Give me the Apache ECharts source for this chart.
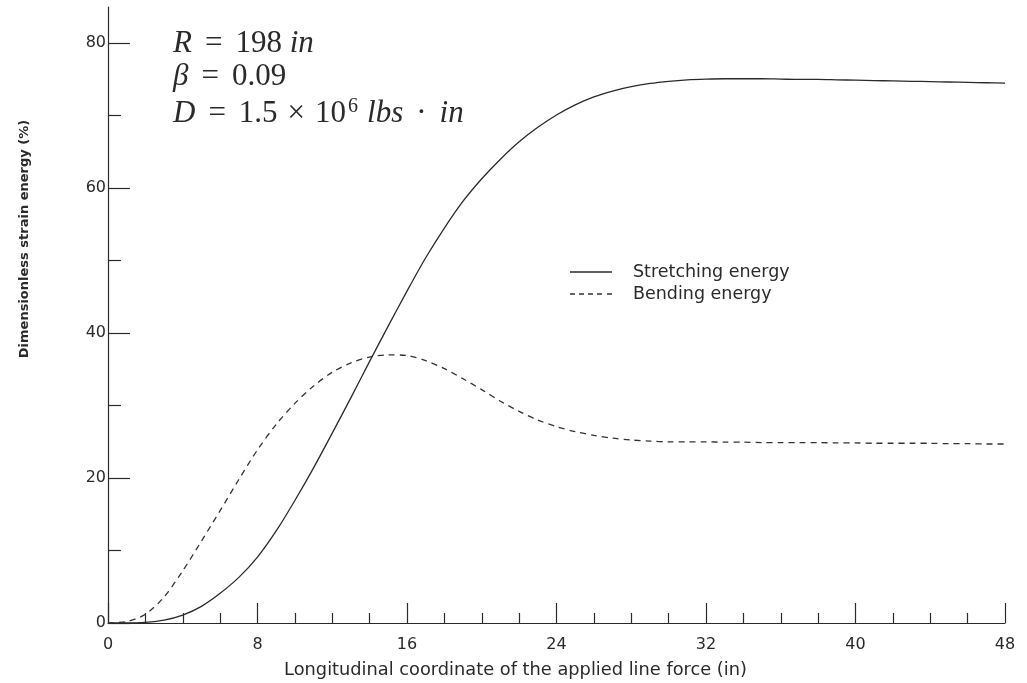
<!DOCTYPE html>
<html><head><meta charset="utf-8">
<script src="https://cdn.jsdelivr.net/npm/echarts@6/dist/echarts.min.js"></script>
<style>html,body{margin:0;padding:0;background:#fff}#c{width:1027px;height:683px}</style>
</head><body><div id="c"></div>
<script>
const xValues = [0,1,2,3,4,5,6,7,8,9,10,11,12,13,14,15,16,17,18,19,20,21,22,23,24,25,26,27,28,29,30,31,32,33,34,35,36,37,38,39,40,41,42,43,44,45,46,47,48];
const stretching = [0,0,0.1,0.4,1.1,2.3,4.1,6.3,9.1,12.7,16.9,21.4,26.2,31.1,36.1,41.0,45.8,50.4,54.5,58.2,61.3,64.0,66.4,68.4,70.1,71.5,72.6,73.4,74.0,74.45,74.75,74.95,75.05,75.1,75.1,75.1,75.05,75.0,75.0,74.95,74.9,74.85,74.8,74.75,74.7,74.65,74.6,74.55,74.5];
const bending = [0,0.2,1.2,3.6,7.2,11.3,15.5,19.8,23.9,27.4,30.3,32.7,34.6,35.9,36.7,37.0,36.9,36.2,35.1,33.7,32.2,30.6,29.2,28.0,27.1,26.4,25.9,25.5,25.25,25.1,25.0,25.0,25.0,24.95,24.95,24.9,24.9,24.9,24.9,24.85,24.85,24.8,24.8,24.8,24.8,24.75,24.75,24.7,24.7];
const yMajorTicks = [0,20,40,60,80];
const yMinorTicks = [10,30,50,70];
const seriesNames = ['Stretching energy','Bending energy'];

const ink = '#2a2a2a';
const sans = '"DejaVu Sans", sans-serif';
const serif = '"Liberation Serif", "DejaVu Serif", serif';
const FS = 31;
const base = {fontFamily: serif, fontSize: FS, fontStyle: 'normal', fill: ink};
const rich = {
  i: Object.assign({}, base, {fontStyle: 'italic'}),
  n: base,
  eq: Object.assign({}, base, {padding: [0, 13, 0, 13]}),
  op: Object.assign({}, base, {padding: [0, 10, 0, 10]}),
  dot: Object.assign({}, base, {padding: [0, 13, 0, 13]}),
  s: {fontFamily: serif, fontSize: 20, fill: ink, verticalAlign: 'top', padding: [0, 9, 13, 2]}
};
const chart = echarts.init(document.getElementById('c'));
chart.setOption({
  backgroundColor: '#fff',
  animation: false,
  grid: {left: 108, right: 22, top: 7, bottom: 60, containLabel: false, outerBoundsMode: 'none'},
  xAxis: {
    type: 'value', min: 0, max: 48, interval: 8,
    axisLine: {lineStyle: {color: ink, width: 1.2}},
    axisTick: {inside: true, length: 20, lineStyle: {color: ink, width: 1.2}},
    minorTick: {show: true, splitNumber: 4, length: 10, lineStyle: {color: ink, width: 1.2}},
    splitLine: {show: false},
    axisLabel: {fontFamily: sans, fontSize: 16, color: ink, margin: 14},
    name: 'Longitudinal coordinate of the applied line force (in)',
    nameLocation: 'middle', nameGap: 38,
    nameTextStyle: {fontFamily: sans, fontSize: 17.8, color: ink, padding: [0, 82, 0, 0]}
  },
  yAxis: [{
    type: 'value', min: 0, max: 85,
    axisLine: {show: true, lineStyle: {color: ink, width: 1.2}},
    axisTick: {show: true, inside: true, length: 22, customValues: yMajorTicks, lineStyle: {color: ink, width: 1.2}},
    axisLabel: {customValues: yMajorTicks, fontFamily: sans, fontSize: 16, color: ink, margin: 2},
    splitLine: {show: false}
  }, {
    type: 'value', min: 0, max: 85, position: 'left',
    axisLine: {show: false},
    axisTick: {show: true, inside: true, length: 13, customValues: yMinorTicks, lineStyle: {color: ink, width: 1.2}},
    axisLabel: {show: false},
    splitLine: {show: false}
  }],
  legend: {
    orient: 'vertical', left: 565, top: 258, itemWidth: 42, itemHeight: 14, itemGap: 4,
    textStyle: {fontFamily: sans, fontSize: 17.5, color: ink, padding: [0, 0, 0, 16]},
    data: [
      {name: seriesNames[0], icon: 'path://M0,0h42v1.3h-42z'},
      {name: seriesNames[1], icon: 'path://M0,0h5v1.3h-5zM9,0h5v1.3h-5zM18,0h5v1.3h-5zM27,0h5v1.3h-5zM37,0h5v1.3h-5z'}
    ]
  },
  series: [{
    name: seriesNames[0], type: 'line', yAxisIndex: 0, symbol: 'none', smooth: 0.3,
    lineStyle: {color: ink, width: 1.3, type: 'solid'}, itemStyle: {color: ink},
    data: xValues.map((x, i) => [x, stretching[i]])
  }, {
    name: seriesNames[1], type: 'line', yAxisIndex: 0, symbol: 'none', smooth: 0.3,
    lineStyle: {color: '#333', width: 1.3, type: [6, 5]}, itemStyle: {color: '#333'},
    data: xValues.map((x, i) => [x, bending[i]])
  }],
  graphic: [{
    type: 'text', rotation: Math.PI / 2, x: 25, y: 239,
    style: {text: 'Dimensionless strain energy (%)', fontFamily: sans, fontWeight: 'bold', fontSize: 13, fill: ink, align: 'center', verticalAlign: 'middle'}
  }, {
    type: 'text', left: 173, top: 28,
    style: {text: '{i|R}{eq|=}{n|198 }{i|in}', rich: rich, fontFamily: serif, fontSize: FS, fill: ink}
  }, {
    type: 'text', left: 173, top: 61,
    style: {text: '{i|β}{eq|=}{n|0.09}', rich: rich, fontFamily: serif, fontSize: FS, fill: ink}
  }, {
    type: 'text', left: 173, top: 97,
    style: {text: '{i|D}{eq|=}{n|1.5}{op|×}{n|10}{s|6}{i|lbs}{dot|·}{i|in}', rich: rich, fontFamily: serif, fontSize: FS, fill: ink}
  }]
});
</script></body></html>
